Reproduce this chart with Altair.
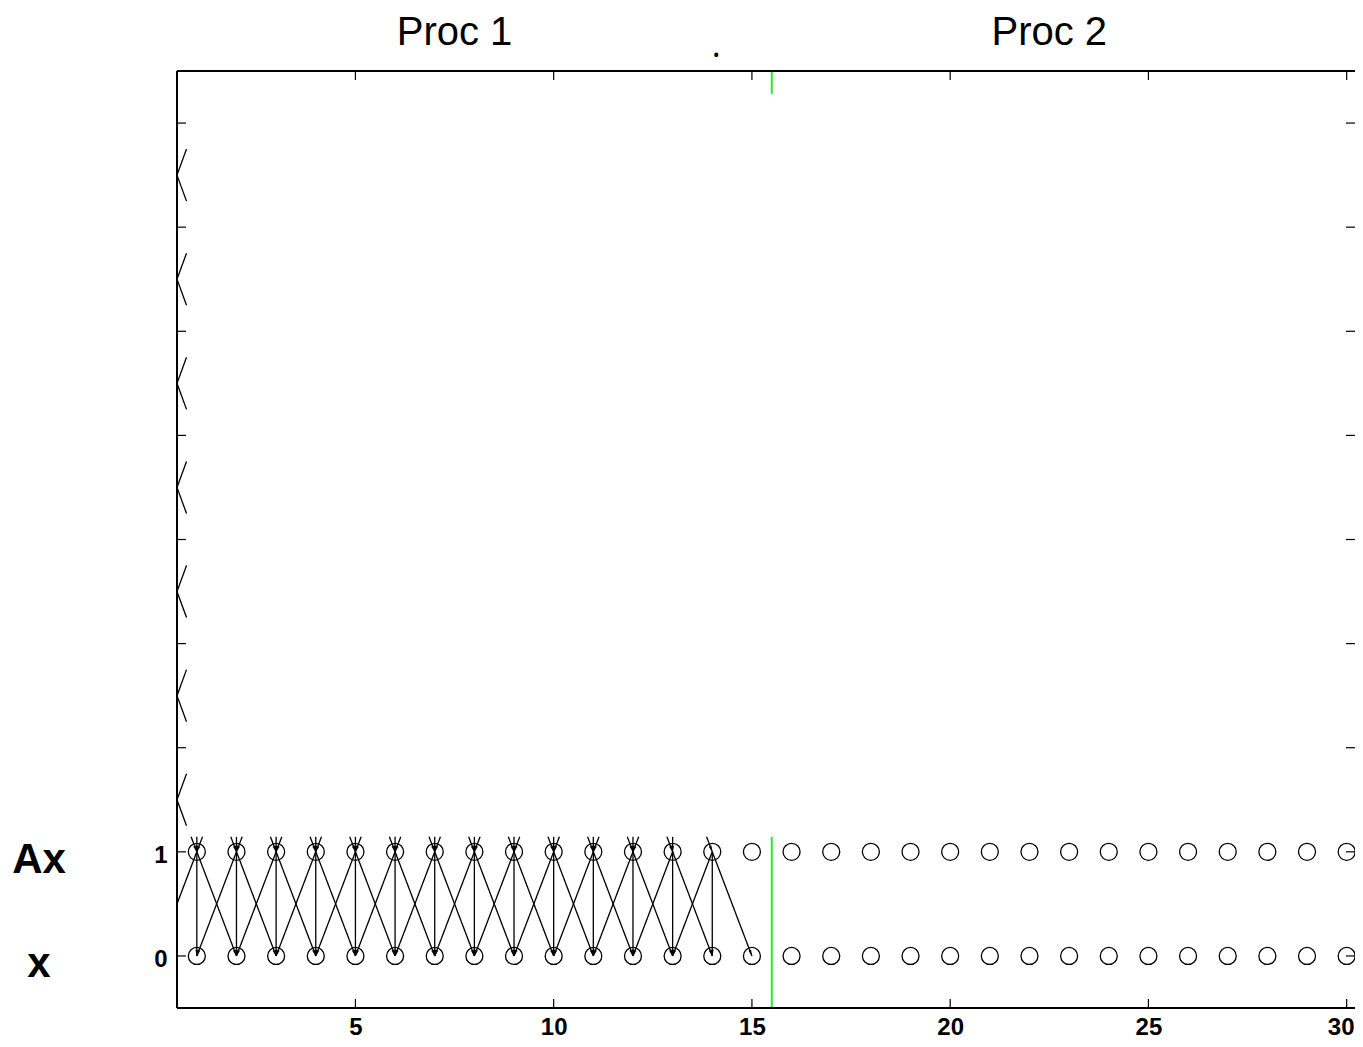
import math
import altair as alt
import pandas as pd

# ---------------- data ----------------
node_x = list(range(1, 31))            # grid points 1..30
node_rows = [0, 1]                      # 0 = x, 1 = Ax
row_names = ["x", "Ax"]
stencil_rows = list(range(1, 15))       # rows of A drawn so far
stencil_offsets = [-1, 0, 1]            # tridiagonal stencil
partial_targets = list(range(1, 15))
partial_src_max = 13
partial_cut = 0.144                     # visible part of incoming arrows above Ax
stub_levels = [1, 2, 3, 4, 5, 6, 7]     # clipped crossings at left edge
stub_dx = 0.24
stub_dy = 0.25
x_ticks = [5, 10, 15, 20, 25, 30]
y_ticks = list(range(0, 9))
y_labels = [0, 1]
proc_titles = ["Proc 1", "Proc 2"]
proc_centers = [7.5, 22.5]
proc_split = 15.5
green_low = [-0.5, 1.144]
green_high = [8.28, 8.5]
dot_x = 14.1
x_domain = [0.5, 30.21]
y_domain = [-0.5, 8.5]

W, H = 1178, 937
SX = W / (x_domain[1] - x_domain[0])
SY = H / (y_domain[1] - y_domain[0])

# ---------------- tables ----------------
def angle(x0, y0, x1, y1):
    dx = (x1 - x0) * SX
    dy = -(y1 - y0) * SY
    return (math.degrees(math.atan2(-dx, dy)) + 360) % 360

segs, heads = [], []
for i in stencil_rows:
    for o in stencil_offsets:
        j = i + o
        segs.append(dict(x=i, y=1, x2=j, y2=0))
        heads.append(dict(x=j, y=0, a=angle(i, 1, j, 0)))
for i in partial_targets:
    for o in stencil_offsets:
        j = i + o
        if 0 <= j <= partial_src_max:
            xs0 = i + o * partial_cut
            ys0 = 1 + partial_cut
            segs.append(dict(x=xs0, y=ys0, x2=i, y2=1))
            heads.append(dict(x=i, y=1, a=angle(xs0, ys0, i, 1)))
for k in stub_levels:
    for s in (1, -1):
        segs.append(dict(x=x_domain[0], y=k + 0.5,
                         x2=x_domain[0] + stub_dx, y2=k + 0.5 + s * stub_dy))
seg_df = pd.DataFrame(segs)
head_df = pd.DataFrame(heads)
head_df = head_df[(head_df.x >= x_domain[0])]

nodes = pd.DataFrame([dict(x=x, y=r) for r in node_rows for x in node_x])
green_df = pd.DataFrame([dict(x=proc_split, y=green_low[0], y2=green_low[1]),
                         dict(x=proc_split, y=green_high[0], y2=green_high[1])])
xt_df = pd.DataFrame(dict(t=x_ticks))
yt_df = pd.DataFrame(dict(t=y_ticks))
proc_df = pd.DataFrame(dict(x=proc_centers, label=proc_titles))
row_df = pd.DataFrame(dict(y=node_rows, label=row_names))
dot_df = pd.DataFrame(dict(x=[dot_x], label=["."]))
one = pd.DataFrame(dict(a=[0]))

# ---------------- scales / axes ----------------
xs = alt.Scale(domain=x_domain, nice=False, zero=False)
ys = alt.Scale(domain=y_domain, nice=False, zero=False)
xaxis = alt.Axis(values=x_ticks, ticks=False, tickSize=0, domain=False, grid=False,
                 title=None, labelFont="Liberation Sans", labelFontWeight="bold",
                 labelFontSize=24, labelPadding=7, labelColor="black",
                 labelFlush=False,
                 labelOffset={"condition": {"test": "datum.value == 30", "value": -6},
                              "value": 0})
yaxis = alt.Axis(values=y_labels, format="d", ticks=False, tickSize=0, domain=False,
                 grid=False, title=None, labelFont="Liberation Sans",
                 labelFontWeight="bold", labelFontSize=24, labelPadding=10,
                 labelColor="black", labelOffset=4)

def X(f):
    return alt.X(f, type="quantitative", scale=xs, axis=xaxis)

def Y(f):
    return alt.Y(f, type="quantitative", scale=ys, axis=yaxis)

lines = alt.Chart(seg_df).mark_rule(color="black", strokeWidth=1.3, clip=True).encode(
    x=X("x"), y=Y("y"), x2="x2", y2="y2")

arrow_path = "M0,0L-0.25,-1L0.25,-1Z"
arrows = alt.Chart(head_df).mark_point(shape=arrow_path, filled=True, color="black",
                                       opacity=0.85, size=150, clip=True).encode(
    x=X("x"), y=Y("y"), angle=alt.Angle("a:Q", scale=None))

circles = alt.Chart(nodes).mark_point(shape="circle", filled=False, color="black",
                                      size=289, strokeWidth=1.3, opacity=1).encode(
    x=X("x"), y=Y("y"))

green = alt.Chart(green_df).mark_rule(color="#2ee82e", strokeWidth=2).encode(
    x=X("x"), y=Y("y"), y2="y2")

tick_len = 9
xt_bottom = alt.Chart(xt_df).mark_rule(color="black", strokeWidth=1.2).encode(
    x=X("t"), y=alt.value(H), y2=alt.value(H - tick_len))
xt_top = alt.Chart(xt_df).mark_rule(color="black", strokeWidth=1.2).encode(
    x=X("t"), y=alt.value(0), y2=alt.value(tick_len))
yt_left = alt.Chart(yt_df).mark_rule(color="black", strokeWidth=1.2).encode(
    y=Y("t"), x=alt.value(0), x2=alt.value(tick_len))
yt_right = alt.Chart(yt_df).mark_rule(color="black", strokeWidth=1.2).encode(
    y=Y("t"), x=alt.value(W - tick_len), x2=alt.value(W))

frame_left = alt.Chart(one).mark_rule(color="black", strokeWidth=2).encode(
    x=alt.value(0), y=alt.value(0), y2=alt.value(H))
frame_top = alt.Chart(one).mark_rule(color="black", strokeWidth=2).encode(
    y=alt.value(0), x=alt.value(0), x2=alt.value(W))
frame_bottom = alt.Chart(one).mark_rule(color="black", strokeWidth=2).encode(
    y=alt.value(H), x=alt.value(0), x2=alt.value(W))

procs = alt.Chart(proc_df).mark_text(font="Liberation Sans", fontSize=40, color="black",
                                     align="center", baseline="alphabetic").encode(
    x=X("x"), y=alt.value(-26), text="label:N")

dot = alt.Chart(dot_df).mark_text(font="Open Sans", fontSize=34, color="black",
                                  align="center", baseline="alphabetic").encode(
    x=X("x"), y=alt.value(-14), text="label:N")

rows = alt.Chart(row_df).mark_text(font="Liberation Sans", fontWeight="bold",
                                   fontSize=42, color="black", align="center",
                                   baseline="alphabetic", dy=21).encode(
    y=Y("y"), x=alt.value(-138), text="label:N")

chart = alt.layer(
    lines, arrows, circles, green, xt_bottom, xt_top, yt_left, yt_right,
    frame_left, frame_top, frame_bottom, procs, dot, rows
).properties(
    width=W, height=H,
    autosize=alt.AutoSizeParams(type="none"),
    padding={"left": 169, "top": 63, "right": 0, "bottom": 31},
    background="white",
).configure_view(stroke=None)

chart.save("out.html", embed_options={"renderer": "svg", "actions": False})
